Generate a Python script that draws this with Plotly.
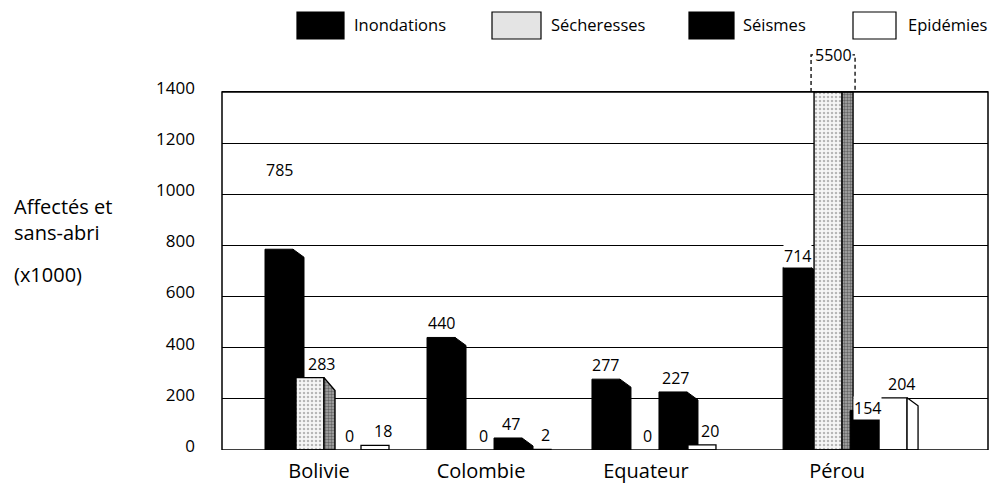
import plotly.graph_objects as go

# ---------------- data ----------------
countries = ["Bolivie", "Colombie", "Equateur", "Pérou"]
series_names = ["Inondations", "Sécheresses", "Séismes", "Epidémies"]
inondations = [785, 440, 277, 714]
secheresses = [283, 0, 0, 5500]
seismes = [0, 47, 227, 154]
epidemies = [18, 2, 20, 204]
y_tick_vals = [0, 200, 400, 600, 800, 1000, 1200, 1400]
y_cap = 1400          # axis stops here; larger values are shown truncated

series_values = [inondations, secheresses, seismes, epidemies]

# ---------------- layout constants ----------------
PAGE_OFF = 8                      # default body margin of the html page
PAGE_W, PAGE_H = 999, 484
W, H = PAGE_W - PAGE_OFF, PAGE_H - PAGE_OFF
# plot area in page pixels
P_LEFT, P_RIGHT, P_TOP, P_BOTTOM = 222, 988, 51, 450
ML = P_LEFT - PAGE_OFF
MR = PAGE_W - P_RIGHT
MT = P_TOP - PAGE_OFF
MB = PAGE_H - P_BOTTOM
PLOT_W = P_RIGHT - P_LEFT
PLOT_H = P_BOTTOM - P_TOP
Y_MAX = 1560
UNIT_PX = 172.0
X_MIN = -(265 - P_LEFT) / UNIT_PX
X_MAX = X_MIN + PLOT_W / UNIT_PX

GROUP_POS = [0.0, 0.942, 1.901, 3.012]        # group spacing of the original layout
SERIES_OFF = [o / UNIT_PX for o in (0, 31, 67, 96)]
FRONT_W = 28 / UNIT_PX
SIDE_W = 11 / UNIT_PX
LABEL_OFF = 54 / UNIT_PX
LABEL_DX = [0, 11, 3, 8]            # px shift of value labels per series
PX_PER_Y = PLOT_H / Y_MAX
BEVEL = [8 / PX_PER_Y, 13 / PX_PER_Y, 8 / PX_PER_Y, 8 / PX_PER_Y]
OVER_TOP = 1545

FONT = "Open Sans"

styles = [
    dict(front=dict(fillcolor="black"), side=dict(fillcolor="black"), line="black", lw=1),
    dict(front=dict(fillcolor="#eeeeee",
                    fillpattern=dict(shape=".", bgcolor="#f6f6f6", fgcolor="#777777", size=4, solidity=0.3)),
         side=dict(fillcolor="#999999",
                   fillpattern=dict(shape=".", bgcolor="#aaaaaa", fgcolor="#222222", size=3, solidity=0.5)),
         line="black", lw=1.4),
    dict(front=dict(fillcolor="black"), side=dict(fillcolor="black"), line="black", lw=1),
    dict(front=dict(fillcolor="white"), side=dict(fillcolor="white"), line="black", lw=1.3),
]

fig = go.Figure()

label_shift = {(0, 0): 79, (3, 0): 11, (3, 2): 3}

annotations = []
for s, vals in enumerate(series_values):
    fx, fy, sx, sy = [], [], [], []
    for g, v in enumerate(vals):
        x0 = GROUP_POS[g] + SERIES_OFF[s]
        x1 = x0 + FRONT_W
        x2 = x1 + SIDE_W
        h = min(v, y_cap)
        if v > 0:
            fx += [x0, x0, x1, x1, x0, None]
            fy += [0, h, h, 0, 0, None]
            top2 = h if v > y_cap else max(h - BEVEL[s], 0)
            if top2 > 0:
                sx += [x1, x1, x2, x2, x1, None]
                sy += [0, h, top2, 0, 0, None]
        if v > y_cap:
            continue
        annotations.append(dict(
            x=x0 + FRONT_W / 2 + LABEL_DX[s] / UNIT_PX, y=h, xref="x", yref="y",
            text=str(v), showarrow=False, yanchor="middle",
            yshift=label_shift.get((g, s), 14),
            bgcolor="white" if (g, s) in label_shift and (g, s) != (0, 0) else "rgba(0,0,0,0)",
            borderpad=0,
            font=dict(family=FONT, size=16, color="black")))
    st = styles[s]
    fig.add_trace(go.Scatter(x=fx, y=fy, mode="lines", fill="toself",
                             line=dict(color=st["line"], width=st["lw"]),
                             hoverinfo="skip", showlegend=False, **st["front"]))
    if sx:
        fig.add_trace(go.Scatter(x=sx, y=sy, mode="lines", fill="toself",
                                 line=dict(color=st["line"], width=st["lw"]),
                                 hoverinfo="skip", showlegend=False, **st["side"]))

# truncated bar indicator (value beyond the axis)
for s, vals in enumerate(series_values):
    for g, v in enumerate(vals):
        if v > y_cap:
            xa = GROUP_POS[g] + SERIES_OFF[s] - 3 / UNIT_PX
            xb = GROUP_POS[g] + SERIES_OFF[s] + FRONT_W + SIDE_W + 2 / UNIT_PX
            fig.add_trace(go.Scatter(x=[xa, xa, xb, xb], y=[y_cap, OVER_TOP, OVER_TOP, y_cap],
                                     mode="lines", line=dict(color="black", width=1.3, dash="4px,3px"),
                                     hoverinfo="skip", showlegend=False))
            annotations.append(dict(x=(xa + xb) / 2, y=OVER_TOP, xref="x", yref="y", text=str(v),
                                    showarrow=False, yanchor="middle", bgcolor="white", borderpad=0,
                                    font=dict(family=FONT, size=16, color="black")))


def xp(px):
    return (px - P_LEFT) / PLOT_W


def yp(py):
    return (P_BOTTOM - py) / PLOT_H


shapes = [dict(type="rect", xref="paper", yref="y", x0=0, x1=1, y0=0, y1=y_cap,
               line=dict(color="black", width=1.5), layer="above")]

# legend (page pixels)
legend_items = [(297, 344, 352), (492, 541, 549), (689, 734, 741), (853, 896, 906)]
legend_fill = ["black", "#e4e4e4", "black", "white"]
for (bx0, bx1, tx), name, col in zip(legend_items, series_names, legend_fill):
    shapes.append(dict(type="rect", xref="paper", yref="paper", x0=xp(bx0), x1=xp(bx1),
                       y0=yp(39), y1=yp(12), fillcolor=col, line=dict(color="black", width=1.2)))
    annotations.append(dict(x=xp(tx), y=yp(25), xref="paper", yref="paper", text=name,
                            showarrow=False, xanchor="left", yanchor="middle",
                            font=dict(family=FONT, size=16.5, color="black")))

# y-axis title
annotations.append(dict(x=xp(12), y=yp(219), xref="paper", yref="paper",
                        text="Affectés et<br>sans-abri", align="left", showarrow=False,
                        xanchor="left", yanchor="middle", font=dict(family=FONT, size=20, color="black")))
annotations.append(dict(x=xp(12), y=yp(274), xref="paper", yref="paper",
                        text="(x1000)", align="left", showarrow=False,
                        xanchor="left", yanchor="middle", font=dict(family=FONT, size=20, color="black")))

fig.update_layout(
    width=W, height=H,
    margin=dict(l=ML, r=MR, t=MT, b=MB, autoexpand=False),
    paper_bgcolor="white", plot_bgcolor="white",
    showlegend=False,
    shapes=shapes, annotations=annotations,
    xaxis=dict(range=[X_MIN, X_MAX], tickmode="array", automargin=False,
               tickvals=[GROUP_POS[g] + LABEL_OFF for g in range(len(countries))], ticktext=countries,
               showgrid=False, zeroline=False, showline=False, ticks="",
               ticklabelstandoff=7,
               tickfont=dict(family=FONT, size=20, color="black")),
    yaxis=dict(range=[0, Y_MAX], tickmode="array", tickvals=y_tick_vals, automargin=False,
               showgrid=True, gridcolor="black", gridwidth=1.3,
               zeroline=False, showline=False, ticks="",
               ticklabelstandoff=26, ticklabelshift=-4,
               tickfont=dict(family=FONT, size=17, color="black")),
)

fig.write_html("out.html")
